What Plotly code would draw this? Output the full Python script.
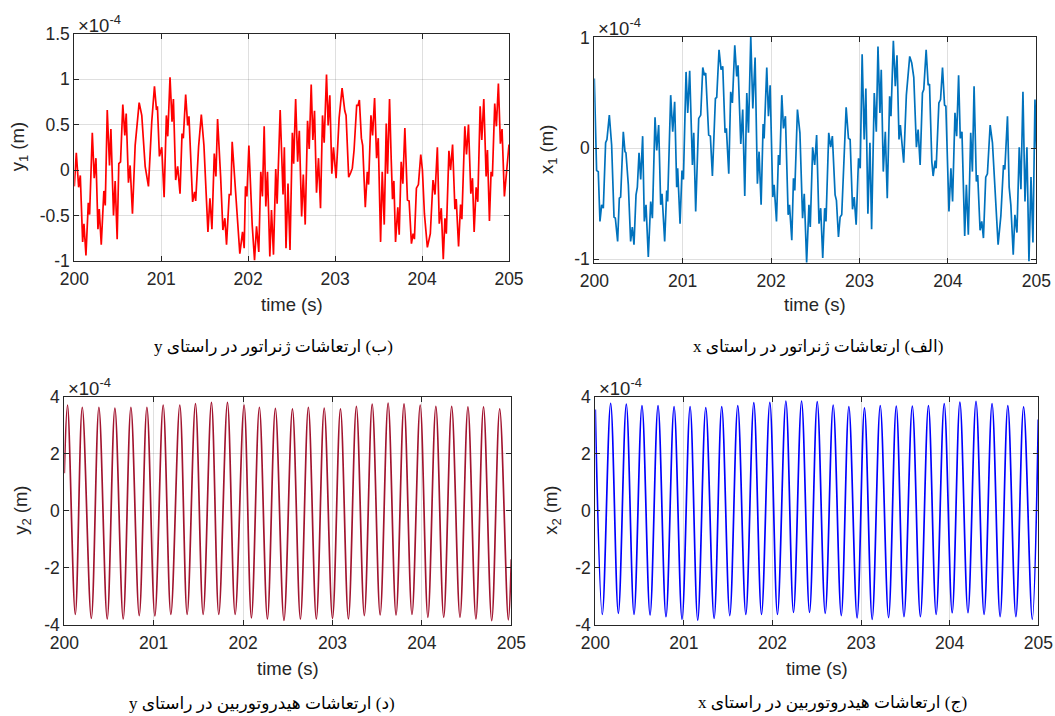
import plotly.graph_objects as go

W, H = 1055, 716

# ---------------- data (displacements in units of 1e-4 m) ----------------
# (b) generator vibration, y direction
y1_t = [200.000, 200.023, 200.050, 200.069, 200.096, 200.111, 200.134, 200.161, 200.176, 200.207,
        200.229, 200.249, 200.272, 200.287, 200.310, 200.340, 200.356, 200.379, 200.405, 200.421,
        200.451, 200.470, 200.493, 200.512, 200.532, 200.558, 200.581, 200.597, 200.623, 200.642,
        200.669, 200.700, 200.746, 200.776, 200.815, 200.853, 200.891, 200.922, 200.945, 200.956,
        200.979, 201.006, 201.033, 201.059, 201.075, 201.101, 201.124, 201.140, 201.166, 201.189,
        201.216, 201.239, 201.254, 201.281, 201.304, 201.319, 201.361, 201.384, 201.396, 201.430,
        201.461, 201.491, 201.537, 201.560, 201.583, 201.610, 201.629, 201.648, 201.683, 201.709,
        201.732, 201.751, 201.782, 201.801, 201.816, 201.839, 201.866, 201.904, 201.935, 201.954,
        201.969, 201.985, 202.008, 202.027, 202.046, 202.073, 202.096, 202.122, 202.145, 202.164,
        202.184, 202.203, 202.222, 202.249, 202.268, 202.291, 202.317, 202.333, 202.368, 202.401,
        202.416, 202.435, 202.458, 202.481, 202.508, 202.523, 202.546, 202.569, 202.588, 202.615,
        202.634, 202.656, 202.683, 202.702, 202.725, 202.744, 202.763, 202.786, 202.809, 202.832,
        202.855, 202.874, 202.901, 202.920, 202.939, 202.962, 202.981, 203.011, 203.046, 203.080,
        203.111, 203.126, 203.156, 203.179, 203.198, 203.218, 203.248, 203.263, 203.279, 203.302,
        203.317, 203.347, 203.370, 203.385, 203.412, 203.431, 203.454, 203.477, 203.496, 203.523,
        203.542, 203.565, 203.588, 203.603, 203.626, 203.645, 203.660, 203.676, 203.695, 203.721,
        203.737, 203.760, 203.779, 203.802, 203.832, 203.851, 203.878, 203.897, 203.912, 203.935,
        203.958, 203.985, 204.004, 204.027, 204.061, 204.095, 204.126, 204.149, 204.176, 204.198,
        204.221, 204.244, 204.263, 204.279, 204.309, 204.328, 204.351, 204.378, 204.393, 204.420,
        204.443, 204.458, 204.492, 204.511, 204.534, 204.561, 204.580, 204.599, 204.622, 204.641,
        204.668, 204.687, 204.710, 204.737, 204.752, 204.775, 204.794, 204.809, 204.836, 204.855,
        204.878, 204.901, 204.920, 204.947, 204.973, 205.000]
y1_v = [-0.18, 0.19, -0.19, -0.06, -0.79, -0.59, -0.94, -0.36, -0.49, 0.41,
        -0.09, 0.13, -0.65, -0.43, -0.82, -0.23, -0.39, 0.66, 0.05, 0.45,
        -0.50, -0.12, -0.76, 0.07, 0.09, 0.72, 0.38, 0.62, -0.14, 0.05,
        -0.48, 0.27, 0.74, 0.60, 0.04, -0.18, 0.53, 0.92, 0.66, 0.70,
        0.15, 0.25, -0.30, 0.60, 0.37, 1.02, 0.53, 0.78, -0.11, 0.04,
        -0.26, 0.40, 0.35, 0.83, 0.49, 0.59, -0.35, -0.24, -0.34, 0.26,
        0.61, 0.27, -0.68, -0.31, -0.65, 0.18, -0.07, 0.56, -0.07, -0.66,
        -0.53, -0.82, -0.27, -0.27, 0.31, -0.02, -0.48, -0.92, -0.68, -0.86,
        -0.18, -0.29, 0.27, -0.29, -0.60, -0.99, -0.62, -0.90, -0.02, -0.29,
        0.48, -0.40, -0.02, -0.95, -0.44, -0.93, 0.01, -0.37, 0.66, -0.27,
        0.25, -0.86, -0.15, -0.88, 0.41, 0.07, 0.78, 0.09, 0.43, -0.51,
        -0.05, -0.60, 0.54, 0.23, 0.94, 0.33, 0.65, -0.25, 0.13, -0.42,
        0.60, 0.30, 1.05, 0.49, 0.82, -0.04, 0.25, -0.09, 0.57, 0.90,
        0.65, 0.60, -0.08, -0.03, 0.02, 0.22, 0.71, 0.71, 0.77, 0.35,
        0.27, -0.41, -0.02, -0.16, 0.60, 0.38, 0.79, 0.13, 0.35, -0.79,
        -0.02, -0.60, 0.51, -0.04, 0.78, 0.12, -0.32, -0.12, -0.79, -0.41,
        -0.71, 0.09, -0.15, 0.46, -0.33, -0.34, -0.81, -0.70, -0.76, -0.20,
        -0.16, 0.17, 0.00, -0.48, -0.85, -0.70, -0.11, -0.27, 0.25, -0.59,
        -0.42, -0.98, -0.53, -0.70, 0.21, 0.00, 0.28, -0.43, -0.32, -0.84,
        -0.38, -0.54, 0.48, 0.17, 0.50, -0.26, -0.09, -0.68, -0.19, -0.35,
        0.70, 0.33, 0.78, -0.07, 0.22, -0.56, -0.02, -0.07, 0.73, 0.48,
        0.95, 0.29, 0.45, -0.29, 0.00, 0.28]

# (a) generator vibration, x direction
x1_t = [200.000, 200.026, 200.045, 200.064, 200.083, 200.102, 200.128, 200.143, 200.170, 200.196,
        200.223, 200.238, 200.264, 200.283, 200.298, 200.328, 200.347, 200.358, 200.385, 200.411,
        200.430, 200.449, 200.472, 200.487, 200.506, 200.525, 200.547, 200.566, 200.585, 200.611,
        200.638, 200.657, 200.687, 200.706, 200.728, 200.751, 200.766, 200.796, 200.819, 200.830,
        200.864, 200.887, 200.909, 200.932, 200.943, 200.970, 200.992, 201.008, 201.038, 201.057,
        201.079, 201.110, 201.125, 201.147, 201.181, 201.204, 201.227, 201.245, 201.260, 201.294,
        201.313, 201.336, 201.370, 201.385, 201.411, 201.434, 201.453, 201.479, 201.494, 201.521,
        201.543, 201.562, 201.589, 201.611, 201.626, 201.657, 201.679, 201.702, 201.725, 201.744,
        201.770, 201.793, 201.819, 201.845, 201.864, 201.887, 201.910, 201.921, 201.951, 201.970,
        201.989, 202.019, 202.034, 202.061, 202.083, 202.098, 202.121, 202.140, 202.162, 202.193,
        202.208, 202.234, 202.253, 202.268, 202.298, 202.326, 202.356, 202.375, 202.402, 202.428,
        202.443, 202.470, 202.493, 202.515, 202.542, 202.561, 202.584, 202.606, 202.621, 202.652,
        202.674, 202.693, 202.724, 202.739, 202.762, 202.781, 202.799, 202.849, 202.875, 202.894,
        202.921, 202.940, 202.962, 202.989, 203.008, 203.030, 203.053, 203.072, 203.095, 203.118,
        203.137, 203.167, 203.190, 203.209, 203.231, 203.246, 203.269, 203.292, 203.314, 203.341,
        203.356, 203.383, 203.405, 203.424, 203.447, 203.462, 203.500, 203.530, 203.568, 203.591,
        203.614, 203.644, 203.663, 203.686, 203.712, 203.727, 203.754, 203.777, 203.792, 203.818,
        203.833, 203.856, 203.867, 203.898, 203.917, 203.939, 203.962, 203.977, 204.012, 204.034,
        204.053, 204.080, 204.099, 204.121, 204.140, 204.159, 204.190, 204.209, 204.231, 204.258,
        204.277, 204.296, 204.322, 204.337, 204.364, 204.383, 204.402, 204.428, 204.447, 204.478,
        204.504, 204.531, 204.568, 204.599, 204.629, 204.644, 204.674, 204.693, 204.712, 204.739,
        204.758, 204.781, 204.807, 204.826, 204.849, 204.872, 204.894, 204.917, 204.940, 204.962,
        204.985, 205.000]
x1_v = [0.63, -0.20, -0.21, -0.66, -0.51, -0.54, 0.05, 0.08, 0.30, 0.03,
        -0.62, -0.63, -0.84, -0.45, -0.44, 0.15, -0.03, -0.04, -0.33, -0.84,
        -0.71, -0.87, -0.42, -0.35, -0.04, -0.28, 0.11, -0.66, -0.51, -0.98,
        -0.48, -0.63, 0.28, -0.02, 0.21, -0.51, -0.41, -0.84, -0.38, -0.48,
        0.48, 0.15, 0.42, -0.35, -0.18, -0.68, -0.20, -0.28, 0.69, 0.32,
        0.70, -0.15, 0.14, -0.57, 0.27, 0.30, 0.73, 0.66, 0.68, 0.12,
        0.11, -0.25, 0.45, 0.46, 0.89, 0.71, 0.74, 0.14, 0.18, -0.23,
        0.51, 0.41, 0.93, 0.65, 0.75, 0.04, 0.35, -0.43, 0.50, 0.14,
        1.01, 0.36, 0.82, -0.32, -0.03, -0.51, 0.22, 0.09, 0.73, 0.29,
        0.57, -0.44, -0.33, -0.66, -0.06, -0.15, 0.48, 0.18, 0.29, -0.60,
        -0.51, -0.83, -0.27, -0.38, 0.35, 0.14, -0.63, -0.41, -1.03, -0.51,
        -0.71, 0.01, -0.15, 0.12, -0.68, -0.54, -0.99, -0.54, -0.66, 0.14,
        0.01, 0.11, -0.42, -0.47, -0.80, -0.62, -0.60, 0.37, 0.09, 0.08,
        -0.55, -0.44, -0.69, -0.09, -0.18, 0.85, 0.08, 0.54, -0.59, 0.05,
        -0.73, 0.50, 0.15, 0.92, 0.32, 0.71, -0.21, 0.15, -0.45, 0.47,
        0.29, 0.97, 0.56, 0.84, 0.08, 0.21, -0.13, 0.48, 0.83, 0.77,
        0.64, 0.01, 0.17, -0.15, 0.50, 0.53, 0.89, 0.57, 0.58, -0.12,
        -0.25, -0.11, -0.18, 0.41, 0.44, 0.73, 0.39, 0.38, -0.57, -0.18,
        -0.48, 0.32, 0.11, 0.66, 0.09, 0.15, -0.79, -0.33, -0.78, 0.14,
        -0.21, 0.56, -0.30, -0.24, -0.74, -0.66, -0.81, -0.26, -0.23, 0.21,
        0.05, -0.39, -0.87, -0.61, -0.15, -0.19, 0.29, -0.35, -0.51, -0.96,
        -0.60, -0.76, 0.01, -0.37, 0.51, -0.48, 0.01, -1.02, -0.26, -0.85,
        0.44, 0.00]

# (d) hydro-turbine vibration, y direction (peaks / troughs)
y2_t = [200.000, 200.036, 200.123, 200.201, 200.302, 200.387, 200.480, 200.566, 200.659, 200.745,
        200.838, 200.924, 201.013, 201.106, 201.192, 201.292, 201.374, 201.467, 201.553, 201.646,
        201.728, 201.825, 201.911, 202.011, 202.093, 202.182, 202.272, 202.361, 202.457, 202.552,
        202.641, 202.730, 202.819, 202.907, 203.000, 203.089, 203.178, 203.267, 203.356, 203.444,
        203.533, 203.622, 203.711, 203.800, 203.889, 203.981, 204.067, 204.156, 204.244, 204.333,
        204.426, 204.515, 204.604, 204.689, 204.781, 204.870, 204.967, 205.000]
y2_v = [1.32, 3.71, -3.63, 3.63, -3.77, 3.63, -3.79, 3.60, -3.79, 3.63,
        -3.67, 3.63, -3.68, 3.71, -3.63, 3.71, -3.63, 3.76, -3.63, 3.80,
        -3.63, 3.80, -3.63, 3.71, -3.75, 3.63, -3.79, 3.59, -3.84, 3.57,
        -3.79, 3.63, -3.79, 3.60, -3.77, 3.57, -3.79, 3.66, -3.67, 3.74,
        -3.65, 3.78, -3.65, 3.75, -3.63, 3.71, -3.73, 3.66, -3.73, 3.66,
        -3.73, 3.64, -3.79, 3.64, -3.85, 3.57, -3.82, -1.70]

# (c) hydro-turbine vibration, x direction (peaks / troughs)
x2_t = [200.000, 200.079, 200.173, 200.260, 200.350, 200.437, 200.527, 200.618, 200.708, 200.798,
        200.889, 200.979, 201.070, 201.156, 201.247, 201.341, 201.427, 201.518, 201.608, 201.699,
        201.789, 201.876, 201.970, 202.056, 202.151, 202.237, 202.328, 202.418, 202.505, 202.595,
        202.685, 202.776, 202.862, 202.955, 203.038, 203.125, 203.216, 203.310, 203.397, 203.484,
        203.578, 203.669, 203.760, 203.847, 203.938, 204.028, 204.115, 204.206, 204.297, 204.388,
        204.478, 204.569, 204.656, 204.747, 204.834, 204.932, 205.000]
x2_v = [3.55, -3.63, 3.77, -3.59, 3.74, -3.63, 3.69, -3.65, 3.69, -3.71,
        3.65, -3.80, 3.65, -3.83, 3.62, -3.77, 3.65, -3.67, 3.69, -3.63,
        3.79, -3.63, 3.80, -3.63, 3.85, -3.56, 3.85, -3.56, 3.83, -3.59,
        3.71, -3.67, 3.65, -3.75, 3.61, -3.80, 3.69, -3.74, 3.67, -3.71,
        3.67, -3.71, 3.69, -3.63, 3.76, -3.57, 3.81, -3.57, 3.84, -3.63,
        3.76, -3.71, 3.69, -3.71, 3.64, -3.80, 3.20]

x_ticks = [200, 201, 202, 203, 204, 205]
y1_ticks = [-1, -0.5, 0, 0.5, 1, 1.5]
y1_ticktext = ["-1", "-0.5", "0", "0.5", "1", "1.5"]
x1_ticks = [-1, 0, 1]
x1_ticktext = ["-1", "0", "1"]
h_ticks = [-4, -2, 0, 2, 4]
h_ticktext = ["-4", "-2", "0", "2", "4"]

captions = ["\u202b(ب) ارتعاشات ژنراتور در راستای y\u202c",
            "\u202b(الف) ارتعاشات ژنراتور در راستای x\u202c",
            "\u202b(د) ارتعاشات هیدروتوربین در راستای y\u202c",
            "\u202b(ج) ارتعاشات هیدروتوربین در راستای x\u202c"]
y_titles = ["y<sub>1</sub> (m)", "x<sub>1</sub> (m)", "y<sub>2</sub> (m)", "x<sub>2</sub> (m)"]

# ---------------- layout helpers (pixel boxes of the four axes) ----------------
boxes = [(74.3, 509.0, 33.5, 261.0),    # top-left
         (594.3, 1036.3, 37.0, 263.0),  # top-right
         (64.3, 511.3, 396.7, 625.0),   # bottom-left
         (595.3, 1038.3, 396.7, 625.0)] # bottom-right

def xd(b):
    return [b[0] / W, b[1] / W]

def yd(b):
    return [1 - b[3] / H, 1 - b[2] / H]

AX = "#262626"
GRID = "rgba(38,38,38,0.15)"
SANS = "Liberation Sans, Arial, sans-serif"
TICKFONT = dict(family=SANS, size=17.5, color=AX)

fig = go.Figure()
series = [(y1_t, y1_v, "#FF0000", "linear"),
          (x1_t, x1_v, "#0072BD", "linear"),
          (y2_t, y2_v, "#A2142F", "spline"),
          (x2_t, x2_v, "#0000FF", "spline")]
for i, (t, v, c, shp) in enumerate(series):
    k = "" if i == 0 else str(i + 1)
    fig.add_trace(go.Scatter(x=t, y=v, mode="lines", xaxis="x" + k, yaxis="y" + k,
                             line=dict(color=c, width=1.7, shape=shp, smoothing=1.0),
                             showlegend=False, hoverinfo="skip"))

yranges = [[-1, 1.5], [-1.035, 1.005], [-4, 4], [-4, 4]]
yticks = [(y1_ticks, y1_ticktext), (x1_ticks, x1_ticktext), (h_ticks, h_ticktext), (h_ticks, h_ticktext)]

common = dict(showline=True, linecolor=AX, linewidth=1, mirror="ticks", ticks="inside",
              ticklen=5, tickcolor=AX, tickwidth=1, showgrid=True, gridcolor=GRID, gridwidth=1,
              zeroline=False, tickfont=TICKFONT, fixedrange=True, automargin=False)

layout = dict(width=W, height=H, autosize=False,
              margin=dict(l=0, r=0, t=0, b=0, pad=0, autoexpand=False),
              paper_bgcolor="white", plot_bgcolor="white", showlegend=False)
for i, b in enumerate(boxes):
    k = "" if i == 0 else str(i + 1)
    layout["xaxis" + k] = dict(common, domain=xd(b), range=[200, 205], tickvals=x_ticks,
                               ticktext=[str(v) for v in x_ticks], anchor="y" + k,
                               ticklabelstandoff=2)
    layout["yaxis" + k] = dict(common, domain=yd(b), range=yranges[i], tickvals=yticks[i][0],
                               ticktext=yticks[i][1], anchor="x" + k)
fig.update_layout(**layout)

ann = []
LAB = dict(family=SANS, size=18.5, color=AX)
CAP = dict(family="Liberation Serif, DejaVu Sans, serif", size=17, color="black")
time_y = [304, 304, 668, 668]
cap_pos = [(273, 346), (818, 346), (262, 703), (832, 703)]
ytitle_x = [19, 548, 22, 552]
for i, b in enumerate(boxes):
    cx = (b[0] + b[1]) / 2
    cy = (b[2] + b[3]) / 2
    ann.append(dict(text="time (s)", x=cx / W, y=1 - time_y[i] / H, xref="paper", yref="paper",
                    showarrow=False, font=LAB, xanchor="center", yanchor="middle"))
    ann.append(dict(text=captions[i], x=cap_pos[i][0] / W, y=1 - cap_pos[i][1] / H,
                    xref="paper", yref="paper", showarrow=False, font=CAP,
                    xanchor="center", yanchor="middle"))
    ann.append(dict(text=y_titles[i], x=ytitle_x[i] / W, y=1 - cy / H, xref="paper", yref="paper",
                    showarrow=False, font=LAB, textangle=-90, xanchor="center", yanchor="middle"))
    ann.append(dict(text="\u00d710<sup>-4</sup>", x=(b[0] + 2) / W, y=1 - (b[2] + 4) / H,
                    xref="paper", yref="paper", showarrow=False,
                    font=dict(family=SANS, size=18.5, color=AX),
                    xanchor="left", yanchor="bottom"))
fig.update_layout(annotations=ann)

fig.write_html("out.html", config={"responsive": False, "displayModeBar": False},
               post_script="document.documentElement.style.margin='0';"
                           "document.body.style.margin='0';document.body.style.padding='0';"
                           "document.body.style.overflow='hidden';")
